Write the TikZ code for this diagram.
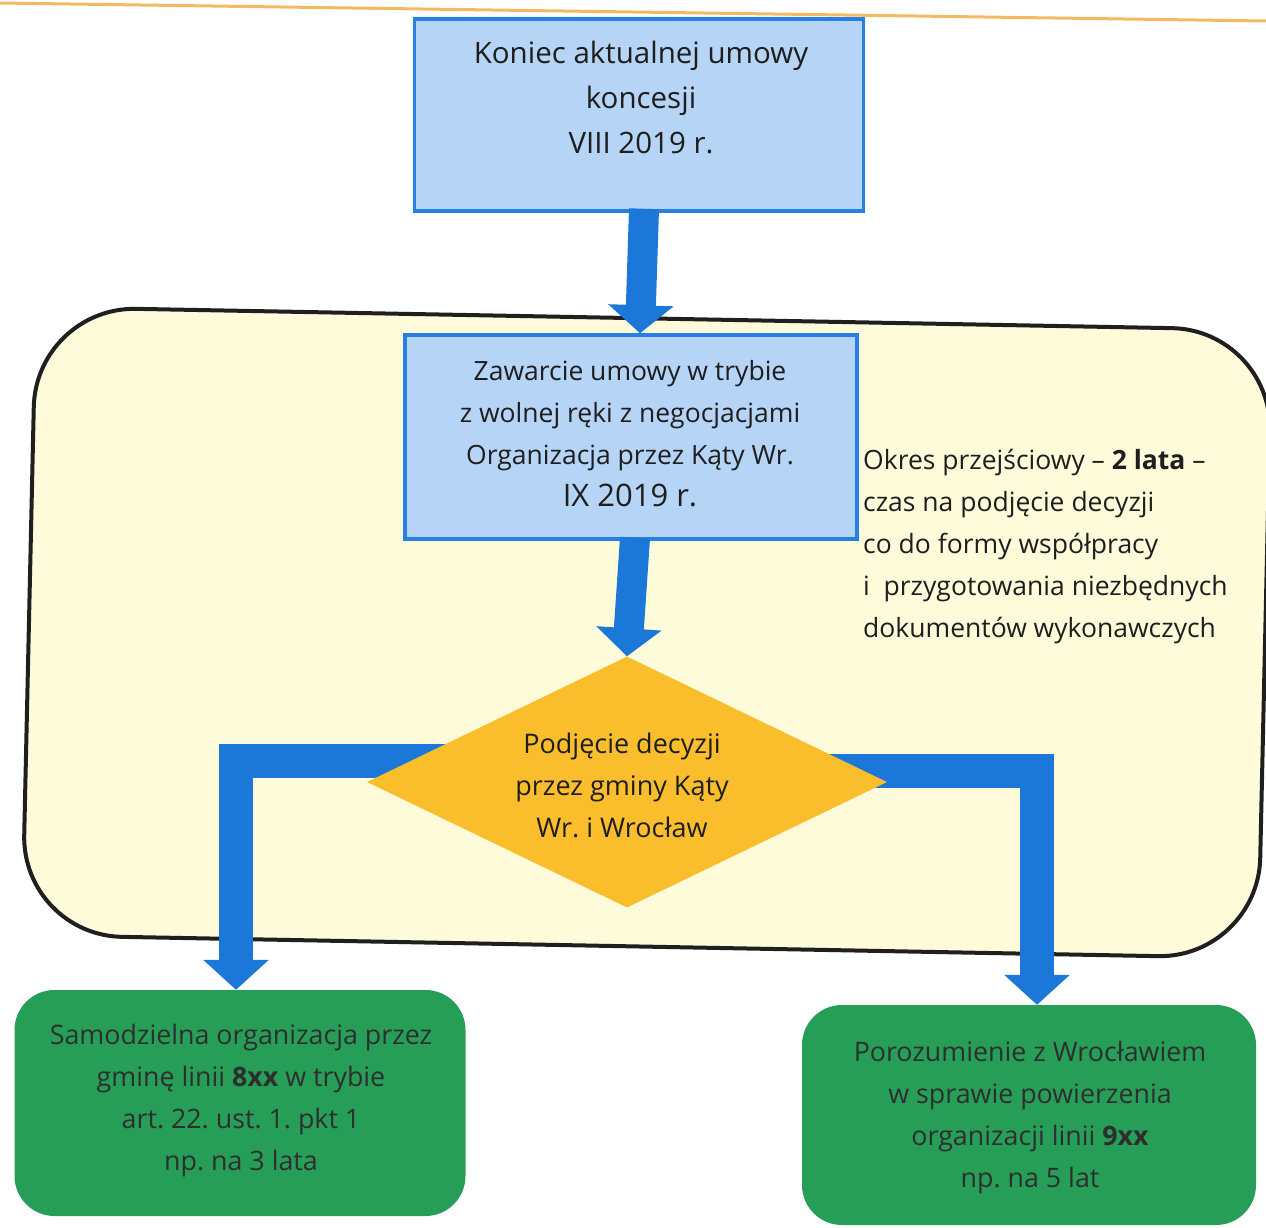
\documentclass[tikz,border=0pt]{standalone}
\usepackage{fontspec}
\setmainfont{Open Sans}
\usetikzlibrary{arrows.meta,shapes.geometric}
\definecolor{boxblue}{RGB}{181,212,246}
\definecolor{edgeblue}{RGB}{40,128,225}
\definecolor{arrowblue}{RGB}{27,120,216}
\definecolor{cream}{RGB}{253,251,218}
\definecolor{diaorange}{RGB}{250,190,45}
\definecolor{boxgreen}{RGB}{38,158,88}
\definecolor{topline}{RGB}{245,185,95}
\definecolor{txtdark}{RGB}{30,30,30}
\pgfdeclarelayer{bg}
\pgfdeclarelayer{conn}
\pgfsetlayers{bg,conn,main}
\frenchspacing
\tikzset{
  bluebox/.style={draw=edgeblue, line width=3.5pt, fill=boxblue, inner sep=0pt},
  greenbox/.style={fill=boxgreen, rounded corners=40pt, inner sep=0pt},
  dia/.style={diamond, fill=diaorange, inner sep=0pt},
  txt/.style={align=center, text=txtdark, inner sep=0pt},
  gtxt/.style={align=center, text={black!82}, inner sep=0pt},
  flow/.style={draw=arrowblue, line width=30pt, -{Triangle[width=64pt,length=28pt]}},
  lflow/.style={draw=arrowblue, line width=34pt, line join=miter, -{Triangle[width=64pt,length=30pt]}},
}
\begin{document}
\begin{tikzpicture}[x=1pt,y=-1pt]
\useasboundingbox (0,0) rectangle (1266,1228);
\begin{pgfonlayer}{bg}
\fill[white] (0,0) rectangle (1266,1228);
\draw[topline, line width=3pt] (0,3) -- (1266,21);
% big transition frame
\draw[fill=cream, draw=black!88, line width=4pt, rounded corners=100pt]
  (36,307) -- (1272,330) -- (1258,958) -- (22,935) -- cycle;
\end{pgfonlayer}
% boxes
\node[bluebox, minimum width=449pt, minimum height=192pt] (b1) at (639,115) {};
\node[txt, font=\fontsize{29.5}{45}\selectfont] (b1t) at (641,98) {Koniec aktualnej umowy\\koncesji\\VIII 2019 r.};
\node[bluebox, minimum width=452pt, minimum height=204pt] (b2) at (631,437) {};
\node[txt, font=\fontsize{26.5}{42}\selectfont] (b2t) at (630,434) {Zawarcie umowy w trybie\\z wolnej ręki z negocjacjami\\Organizacja przez Kąty Wr.\\{\fontsize{31}{42}\selectfont IX 2019 r.}};
\node[txt, align=left, anchor=west, font=\fontsize{26.5}{42}\selectfont] (side) at (863,547) {Okres przejściowy – \textbf{2 lata} –\\czas na podjęcie decyzji\\co do formy współpracy\\i\ \ przygotowania niezbędnych\\dokumentów wykonawczych};
\node[dia, minimum width=520pt, minimum height=251pt, aspect=2.07] (d) at (627,782) {};
\node[txt, font=\fontsize{27}{42}\selectfont] (dt) at (622,785) {Podjęcie decyzji\\przez gminy Kąty\\Wr. i Wrocław};
\node[greenbox, minimum width=451pt, minimum height=226pt] (g1) at (240,1103) {};
\node[gtxt, font=\fontsize{26.8}{42}\selectfont] (g1t) at (241,1101) {Samodzielna organizacja przez\\gminę linii \textbf{8xx} w trybie\\art. 22. ust. 1. pkt 1\\np. na 3 lata};
\node[greenbox, minimum width=454pt, minimum height=220pt] (g2) at (1029,1115) {};
\node[gtxt, font=\fontsize{26.8}{42}\selectfont] (g2t) at (1030,1118) {Porozumienie z Wrocławiem\\w sprawie powierzenia\\organizacji linii \textbf{9xx}\\np. na 5 lat};
% connectors
\draw[flow] ([xshift=5pt,yshift=4pt]b1.south) -- ([xshift=9pt]b2.north);
\draw[flow] ([xshift=4pt,yshift=3pt]b2.south) -- (d.north);
\coordinate (ls) at (470,761);
\coordinate (rs) at (780,771);
\begin{pgfonlayer}{conn}
\draw[lflow] (ls) -| ([xshift=-4pt]g1.north);
\draw[lflow] (rs) -| ([xshift=8pt]g2.north);
\end{pgfonlayer}
\end{tikzpicture}
\end{document}
